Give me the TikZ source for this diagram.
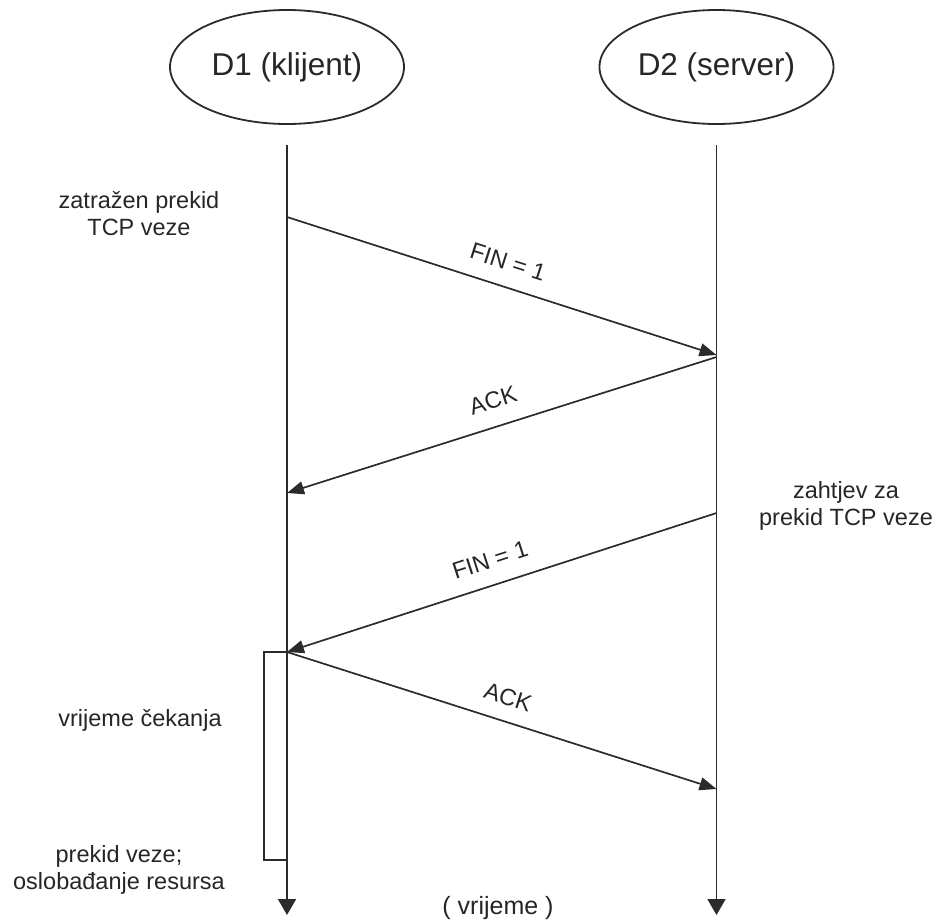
\documentclass[tikz,border=0pt]{standalone}
\usepackage{fontspec}
\setmainfont{Liberation Sans}
\usetikzlibrary{arrows.meta,shapes.geometric}
\definecolor{ln}{HTML}{2B2B2B}
\definecolor{tx}{HTML}{262626}
\begin{document}
\begin{tikzpicture}[x=1pt,y=-1pt,
  lifelinebox/.style={draw=ln, line width=1.8pt, ellipse, minimum width=234pt, minimum height=114pt, inner sep=0pt, text=tx, font=\fontsize{31.5}{36}\selectfont},
  lifeline/.style={draw=ln, line width=1.8pt, -{Triangle[length=16pt,width=18pt]}},
  msg/.style={draw=ln, line width=1.7pt, -{Triangle[length=17pt,width=13pt]}},
  note/.style={text=tx, align=center, font=\fontsize{23.5}{27}\selectfont, inner sep=0pt},
  msglabel/.style={text=tx, font=\fontsize{23.5}{27}\selectfont, inner sep=0pt},
  waitbox/.style={draw=ln, line width=1.8pt, minimum width=23pt, minimum height=208pt, inner sep=0pt}
]
\useasboundingbox (0,0) rectangle (937,922);

% participants
\node[lifelinebox] (d1) at (287,67) {D1 (klijent)};
\node[lifelinebox] (d2) at (716.5,67) {D2 (server)};

% waiting box
\node[waitbox] (wait) at (275.5,756) {};

% lifelines
\coordinate (d1top) at (287,145);
\coordinate (d1end) at (287,915);
\coordinate (d2top) at (716.5,145);
\coordinate (d2end) at (716.5,915);
\draw[lifeline] (d1top) -- (d1end);
\draw[lifeline] (d2top) -- (d2end);

% message points
\coordinate (a1) at (287,217);
\coordinate (b1) at (716.5,355);
\coordinate (b2) at (716.5,357);
\coordinate (a2) at (287,493);
\coordinate (b3) at (716.5,513);
\coordinate (a3) at (287,652);
\coordinate (b4) at (716.5,789);

\draw[msg] (a1) -- (b1);
\draw[msg] (b2) -- (a2);
\draw[msg] (b3) -- (a3);
\draw[msg] (a3) -- (b4);

% message labels
\node[msglabel, rotate=-17.8] (m1) at (508,262) {FIN = 1};
\node[msglabel, rotate=17.6] (m2) at (493,400) {ACK};
\node[msglabel, rotate=17.9] (m3) at (490,560) {FIN = 1};
\node[msglabel, rotate=-17.7] (m4) at (508,697) {ACK};

% notes
\node[note] (n1) at (139,214) {zatražen prekid\\TCP veze};
\node[note] (n2) at (846,506) {zahtjev za\\prekid TCP veze};
\node[note] (n3) at (140,720) {vrijeme čekanja};
\node[note] (n4) at (119,870) {prekid veze;\\oslobađanje resursa};
\node[note, font=\fontsize{25}{29}\selectfont] (n5) at (498,908) {( vrijeme )};
\end{tikzpicture}
\end{document}
